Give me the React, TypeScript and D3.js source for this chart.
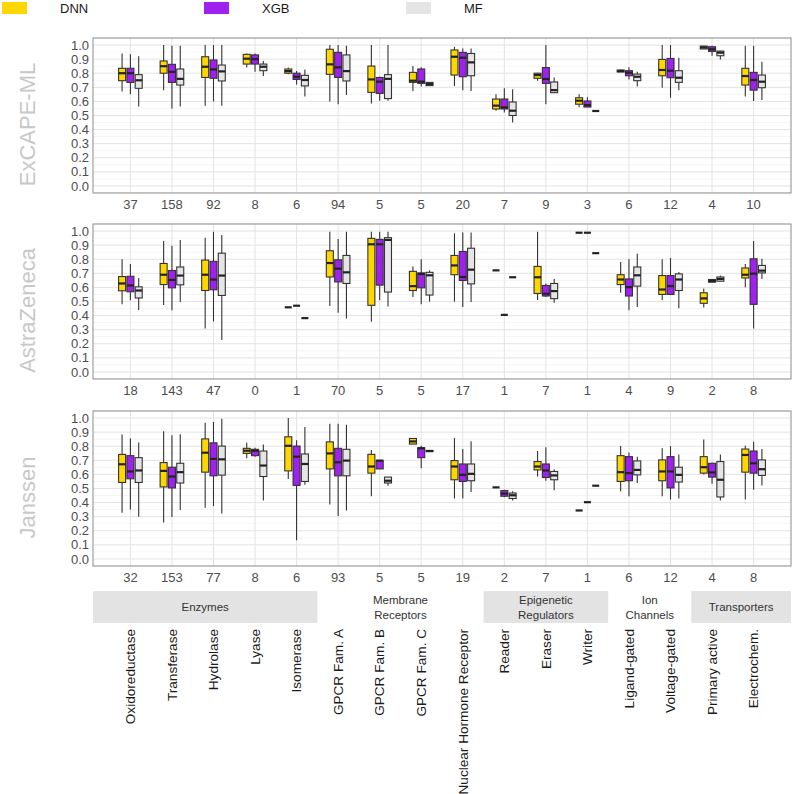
import React from "react";
import * as d3 from "d3";

type Box = number[] | null;

const categories = [
  "Oxidoreductase", "Transferase", "Hydrolase", "Lyase", "Isomerase",
  "GPCR Fam. A", "GPCR Fam. B", "GPCR Fam. C", "Nuclear Hormone Receptor",
  "Reader", "Eraser", "Writer", "Ligand-gated", "Voltage-gated",
  "Primary active", "Electrochem.",
];

const groups = [
  { lines: ["Enzymes"], from: 0, to: 4, filled: true },
  { lines: ["Membrane", "Receptors"], from: 5, to: 8, filled: false },
  { lines: ["Epigenetic", "Regulators"], from: 9, to: 11, filled: true },
  { lines: ["Ion", "Channels"], from: 12, to: 13, filled: false },
  { lines: ["Transporters"], from: 14, to: 15, filled: true },
];

const models = ["DNN", "XGB", "MF"];
const modelColors = ["#FFD700", "#A020F0", "#E5E5E5"];
const yTicks = d3.range(0, 11).map((i) => i / 10);
const s = (v: number) => [v, v, v, v, v];

// [lower whisker, q1, median, q3, upper whisker]
const excapeDNN: Box[] = [
  [0.67, 0.747, 0.8, 0.835, 0.94], [0.68, 0.8, 0.85, 0.887, 1.0], [0.57, 0.77, 0.846, 0.917, 1.0],
  [0.84, 0.865, 0.903, 0.934, 0.94], [0.792, 0.8, 0.815, 0.83, 0.84], [0.6, 0.792, 0.863, 0.97, 1.0],
  [0.586, 0.664, 0.756, 0.851, 1.0], [0.674, 0.735, 0.747, 0.806, 0.851], [0.709, 0.787, 0.917, 0.965, 0.988],
  [0.534, 0.546, 0.57, 0.617, 0.65], [0.747, 0.764, 0.787, 0.8, 0.804], [0.558, 0.58, 0.605, 0.626, 0.65],
  [0.809, 0.809, 0.815, 0.823, 0.827], [0.697, 0.782, 0.823, 0.898, 1.0], [0.972, 0.972, 0.983, 0.993, 0.995],
  [0.634, 0.716, 0.78, 0.835, 0.995],
];
const excapeXGB: Box[] = [
  [0.65, 0.735, 0.8, 0.835, 0.934], [0.55, 0.735, 0.81, 0.863, 0.995], [0.6, 0.764, 0.827, 0.894, 1.0],
  [0.81, 0.865, 0.9, 0.93, 0.94], [0.72, 0.756, 0.775, 0.8, 0.815], [0.58, 0.77, 0.842, 0.948, 1.0],
  [0.605, 0.657, 0.74, 0.77, 0.775], [0.705, 0.728, 0.74, 0.83, 0.842], [0.68, 0.775, 0.91, 0.948, 0.976],
  [0.522, 0.546, 0.558, 0.617, 0.693], [0.58, 0.728, 0.759, 0.84, 1.0], [0.56, 0.56, 0.574, 0.603, 0.63],
  [0.756, 0.782, 0.804, 0.818, 0.842], [0.626, 0.768, 0.818, 0.905, 1.0], [0.924, 0.955, 0.97, 0.988, 0.995],
  [0.603, 0.68, 0.752, 0.806, 0.995],
];
const excapeMF: Box[] = [
  [0.563, 0.693, 0.75, 0.79, 0.92], [0.563, 0.716, 0.76, 0.83, 0.995], [0.57, 0.745, 0.813, 0.858, 1.0],
  [0.78, 0.818, 0.846, 0.865, 0.887], [0.634, 0.71, 0.752, 0.785, 0.827], [0.645, 0.745, 0.815, 0.93, 0.995],
  [0.605, 0.62, 0.76, 0.79, 1.0], [0.712, 0.712, 0.723, 0.735, 0.735], [0.674, 0.782, 0.877, 0.94, 0.976],
  [0.45, 0.5, 0.534, 0.596, 0.686], [0.662, 0.662, 0.68, 0.738, 0.77], s(0.532),
  [0.705, 0.747, 0.775, 0.794, 0.81], [0.68, 0.735, 0.768, 0.818, 0.91], [0.898, 0.924, 0.946, 0.957, 0.96],
  [0.61, 0.697, 0.74, 0.787, 0.882],
];

const azDNN: Box[] = [
  [0.48, 0.576, 0.628, 0.677, 0.8], [0.475, 0.62, 0.69, 0.77, 0.93], [0.309, 0.578, 0.69, 0.794, 0.953],
  null, s(0.459), [0.468, 0.674, 0.773, 0.86, 0.995],
  [0.356, 0.473, 0.906, 0.948, 0.995], [0.532, 0.578, 0.609, 0.714, 0.749], [0.499, 0.69, 0.756, 0.827, 0.984],
  s(0.721), [0.51, 0.557, 0.672, 0.749, 0.995], s(0.988),
  [0.562, 0.62, 0.656, 0.69, 0.78], [0.51, 0.55, 0.585, 0.684, 0.8], [0.457, 0.487, 0.522, 0.562, 0.593],
  [0.602, 0.667, 0.69, 0.738, 0.766],
];
const azXGB: Box[] = [
  [0.508, 0.569, 0.614, 0.679, 0.766], [0.438, 0.597, 0.653, 0.72, 0.895], [0.358, 0.583, 0.656, 0.785, 0.995],
  null, s(0.47), [0.42, 0.639, 0.733, 0.796, 0.944],
  [0.508, 0.616, 0.906, 0.941, 0.995], [0.48, 0.597, 0.695, 0.703, 0.8], [0.461, 0.649, 0.674, 0.855, 0.99],
  s(0.405), [0.532, 0.539, 0.555, 0.614, 0.628], s(0.988),
  [0.438, 0.539, 0.602, 0.66, 0.8], [0.55, 0.55, 0.609, 0.684, 0.808], [0.637, 0.637, 0.646, 0.656, 0.656],
  [0.309, 0.48, 0.698, 0.803, 0.93],
];
const azMF: Box[] = [
  [0.44, 0.525, 0.578, 0.604, 0.667], [0.496, 0.618, 0.684, 0.745, 0.937], [0.227, 0.543, 0.684, 0.843, 0.972],
  null, s(0.382), [0.379, 0.628, 0.707, 0.827, 0.995],
  [0.464, 0.567, 0.937, 0.953, 0.995], [0.499, 0.546, 0.686, 0.707, 0.721], [0.496, 0.625, 0.726, 0.878, 0.99],
  s(0.672), [0.492, 0.52, 0.574, 0.628, 0.66], s(0.843),
  [0.461, 0.609, 0.686, 0.745, 0.838], [0.452, 0.578, 0.656, 0.696, 0.71], [0.644, 0.644, 0.66, 0.674, 0.684],
  [0.66, 0.703, 0.719, 0.756, 0.803],
];

const janDNN: Box[] = [
  [0.328, 0.543, 0.672, 0.742, 0.883], [0.258, 0.511, 0.625, 0.684, 0.906], [0.363, 0.616, 0.754, 0.852, 0.967],
  [0.714, 0.749, 0.768, 0.785, 0.824], [0.567, 0.625, 0.803, 0.867, 1.0], [0.386, 0.639, 0.749, 0.831, 0.96],
  [0.445, 0.609, 0.656, 0.742, 0.773], [0.815, 0.815, 0.834, 0.855, 0.855], [0.429, 0.562, 0.656, 0.698, 0.859],
  s(0.508), [0.585, 0.632, 0.656, 0.691, 0.766], s(0.344),
  [0.48, 0.55, 0.616, 0.733, 0.801], [0.445, 0.555, 0.621, 0.703, 0.785], [0.6, 0.609, 0.651, 0.726, 0.848],
  [0.422, 0.616, 0.738, 0.78, 0.803],
];
const janXGB: Box[] = [
  [0.351, 0.569, 0.621, 0.733, 0.855], [0.297, 0.504, 0.585, 0.651, 0.878], [0.375, 0.59, 0.71, 0.824, 0.972],
  [0.726, 0.733, 0.768, 0.778, 0.789], [0.133, 0.522, 0.726, 0.801, 0.843], [0.304, 0.59, 0.686, 0.785, 0.96],
  [0.639, 0.639, 0.698, 0.698, 0.698], [0.644, 0.719, 0.785, 0.789, 0.803], [0.429, 0.55, 0.597, 0.674, 0.78],
  [0.438, 0.445, 0.464, 0.485, 0.492], [0.555, 0.578, 0.628, 0.674, 0.792], s(0.403),
  [0.445, 0.555, 0.609, 0.726, 0.756], [0.422, 0.504, 0.621, 0.726, 0.801], [0.534, 0.581, 0.614, 0.679, 0.684],
  [0.492, 0.609, 0.679, 0.766, 0.831],
];
const janMF: Box[] = [
  [0.3, 0.543, 0.628, 0.719, 0.827], [0.347, 0.539, 0.616, 0.679, 0.885], [0.323, 0.595, 0.707, 0.801, 0.995],
  [0.415, 0.585, 0.663, 0.766, 0.813], [0.527, 0.55, 0.674, 0.745, 0.937], [0.344, 0.59, 0.698, 0.778, 0.953],
  [0.52, 0.539, 0.555, 0.581, 0.581], [0.762, 0.762, 0.766, 0.77, 0.77], [0.475, 0.555, 0.604, 0.674, 0.836],
  [0.415, 0.429, 0.452, 0.468, 0.48], [0.487, 0.562, 0.593, 0.621, 0.637], s(0.52),
  [0.539, 0.597, 0.632, 0.696, 0.726], [0.429, 0.546, 0.597, 0.651, 0.742], [0.415, 0.44, 0.562, 0.691, 0.742],
  [0.522, 0.593, 0.637, 0.703, 0.78],
];

const excapeCounts = [37, 158, 92, 8, 6, 94, 5, 5, 20, 7, 9, 3, 6, 12, 4, 10];
const azCounts = [18, 143, 47, 0, 1, 70, 5, 5, 17, 1, 7, 1, 4, 9, 2, 8];
const janCounts = [32, 153, 77, 8, 6, 93, 5, 5, 19, 2, 7, 1, 6, 12, 4, 8];

const panels = [
  { title: "ExCAPE-ML", boxes: [excapeDNN, excapeXGB, excapeMF], counts: excapeCounts },
  { title: "AstraZeneca", boxes: [azDNN, azXGB, azMF], counts: azCounts },
  { title: "Janssen", boxes: [janDNN, janXGB, janMF], counts: janCounts },
];

const W = 794;
const left = 93;
const right = 791;
const panelTops = [38, 224, 411];
const panelH = 155;
const font = "'Liberation Sans', Arial, sans-serif";

const x = d3.scalePoint<number>().domain(d3.range(categories.length)).range([left, right]).padding(0.9);
const step = x.step();
const dodge = step * 0.2;
const boxW = 7;

const Panel = ({ p, top }: { p: (typeof panels)[0]; top: number }) => {
  const y = d3.scaleLinear().domain([-0.05, 1.05]).range([top + panelH, top]);
  return (
    <g>
      {d3.range(0, 11).map((i) => (
        <line key={"mn" + i} x1={left} x2={right} y1={y(i / 10 + 0.05)} y2={y(i / 10 + 0.05)} stroke="#efefef" strokeWidth={0.6} />
      ))}
      <line x1={left} x2={right} y1={y(-0.05) - 0.5} y2={y(-0.05) - 0.5} stroke="#efefef" strokeWidth={0.6} />
      {yTicks.map((t) => (
        <line key={"mj" + t} x1={left} x2={right} y1={y(t)} y2={y(t)} stroke="#e3e3e3" strokeWidth={1} />
      ))}
      {categories.map((c, i) => (
        <line key={"v" + c} x1={x(i)} x2={x(i)} y1={top} y2={top + panelH} stroke="#e3e3e3" strokeWidth={1} />
      ))}
      {p.boxes.map((series, m) =>
        series.map((b, i) => {
          if (!b) return null;
          const cx = (x(i) as number) + (m - 1) * dodge;
          const [lo, q1, med, q3, hi] = b;
          return (
            <g key={m + "-" + i}>
              <line x1={cx} x2={cx} y1={y(hi)} y2={y(q3)} stroke="#333" strokeWidth={1.1} />
              <line x1={cx} x2={cx} y1={y(q1)} y2={y(lo)} stroke="#333" strokeWidth={1.1} />
              <rect x={cx - boxW / 2} y={y(q3)} width={boxW} height={Math.max(0, y(q1) - y(q3))}
                fill={modelColors[m]} stroke="#333" strokeWidth={1.1} />
              <line x1={cx - boxW / 2} x2={cx + boxW / 2} y1={y(med)} y2={y(med)} stroke="#222" strokeWidth={2.2} />
            </g>
          );
        })
      )}
      <rect x={left} y={top} width={right - left} height={panelH} fill="none" stroke="#8c8c8c" strokeWidth={1} />
      {yTicks.map((t) => (
        <text key={"yt" + t} x={left - 4} y={y(t)} dy="0.35em" textAnchor="end" fontSize={13} fill="#4d4d4d">
          {t.toFixed(1)}
        </text>
      ))}
      {p.counts.map((c, i) => (
        <text key={"c" + i} x={x(i)} y={top + panelH + 11} dy="0.35em" textAnchor="middle" fontSize={13} fill="#4d4d4d">
          {c}
        </text>
      ))}
      <text transform={`translate(35,${top + panelH / 2 + 9}) rotate(-90)`} textAnchor="middle" fontSize={22} fill="#c8c8c8">
        {p.title}
      </text>
    </g>
  );
};

export default function App() {
  const legendX = [2, 204, 406];
  const stripTop = 591;
  const stripH = 32;
  return (
    <svg width={W} height={W} style={{ position: "absolute", left: 0, top: 0, background: "#fff" }} fontFamily={font}>
      {models.map((m, i) => (
        <g key={m}>
          <rect x={legendX[i]} y={2} width={25} height={12} fill={modelColors[i]} />
          <text x={legendX[i] + 58} y={8} dy="0.35em" fontSize={13} fill="#1a1a1a">{m}</text>
        </g>
      ))}
      {panels.map((p, k) => (
        <Panel key={p.title} p={p} top={panelTops[k]} />
      ))}
      {groups.map((g, k) => {
        const x0 = k === 0 ? left : (x(g.from) as number) - step / 2;
        const x1 = k === groups.length - 1 ? right : (x(g.to) as number) + step / 2;
        const cx = (x0 + x1) / 2;
        const cy = stripTop + stripH / 2;
        return (
          <g key={g.lines.join(" ")}>
            {g.filled && <rect x={x0} y={stripTop} width={x1 - x0} height={stripH} fill="#e3e3e3" />}
            {g.lines.map((l, j) => (
              <text key={l} x={cx} y={cy + (j - (g.lines.length - 1) / 2) * 15} dy="0.35em" textAnchor="middle"
                fontSize={11.5} fill="#333">{l}</text>
            ))}
          </g>
        );
      })}
      {categories.map((c, i) => (
        <text key={c} transform={`translate(${x(i)},629) rotate(-90)`} textAnchor="end" dy="0.35em" fontSize={13.6} fill="#1a1a1a">
          {c}
        </text>
      ))}
    </svg>
  );
}
